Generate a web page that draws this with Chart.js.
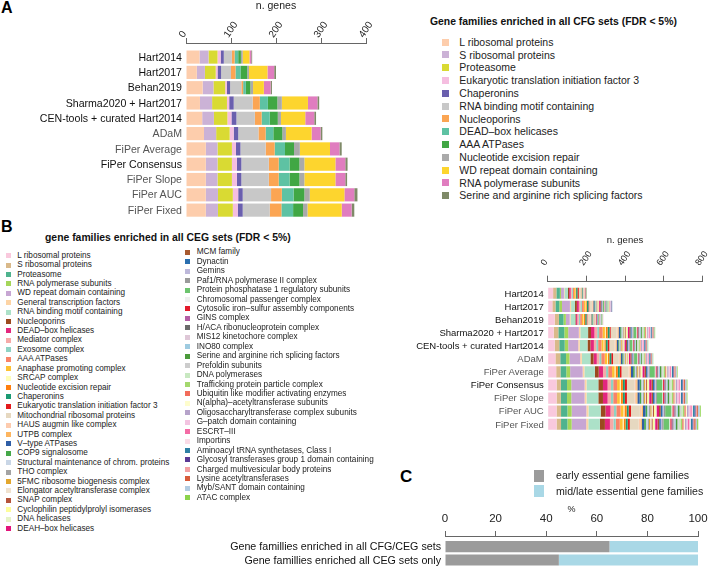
<!DOCTYPE html>
<html>
<head>
<meta charset="utf-8">
<script src="https://cdn.jsdelivr.net/npm/chart.js@4.4.1/dist/chart.umd.min.js"></script>
<style>
  body { margin: 0; background: #fff; font-family: "Liberation Sans", Arial, sans-serif; }
  #page { position: relative; width: 709px; height: 567px; overflow: hidden; }
  canvas { position: absolute; }
  .panel { position: absolute; font-weight: bold; color: #000; line-height: 1; }
  .lgTitle { position: absolute; font-weight: bold; font-size: 10.4px; color: #111; white-space: nowrap; line-height: 12px; }
  .item { position: absolute; white-space: nowrap; color: #222; }
  .sw { position: absolute; }
  .rowLabel { position: absolute; white-space: nowrap; text-align: right; }
</style>
</head>
<body>
<div id="page">
  <div class="panel" style="left:1px;top:0px;font-size:16px;">A</div>
  <div class="panel" style="left:1px;top:219px;font-size:16px;">B</div>
  <div class="panel" style="left:400px;top:468px;font-size:17px;">C</div>
  <canvas id="chartA" width="385" height="222" style="left:0;top:0;"></canvas>
  <canvas id="chartB" width="309" height="215" style="left:400px;top:225px;"></canvas>
  <canvas id="chartC" width="509" height="72" style="left:200px;top:495px;"></canvas>
  <div id="legends"></div>
</div>
<script>
// rows shared by panels A and B
const rowLabels = ['Hart2014', 'Hart2017', 'Behan2019', 'Sharma2020 + Hart2017',
  'CEN-tools + curated Hart2014', 'ADaM', 'FiPer Average', 'FiPer Consensus',
  'FiPer Slope', 'FiPer AUC', 'FiPer Fixed'];

// ---- panel A: CFG gene families (n. genes per set) ----
const cfgFamilies = ['L ribosomal proteins', 'S ribosomal proteins', 'Proteasome',
  'Eukaryotic translation initiation factor 3', 'Chaperonins', 'RNA binding motif containing',
  'Nucleoporins', 'DEAD\u2013box helicases', 'AAA ATPases', 'Nucleotide excision repair',
  'WD repeat domain containing', 'RNA polymerase subunits', 'Serine and arginine rich splicing factors'];
const aLRibo       = [30, 24, 37, 31, 36, 40, 44, 44, 44, 44, 44];
const aSRibo       = [20, 18, 24, 27, 26, 27, 26, 26, 26, 27, 27];
const aProteasome  = [20, 24, 26, 33, 30, 30, 32, 32, 32, 33, 33];
const aEif3        = [7, 4, 4, 5, 9, 9, 9, 11, 11, 12, 11];
const aChaperonins = [7, 8, 7, 10, 11, 10, 10, 10, 10, 10, 11];
const aRnaBinding  = [18, 22, 25, 42, 41, 45, 56, 61, 61, 63, 60];
const aNucleoporins= [6, 10, 4, 16, 15, 16, 20, 22, 22, 24, 26];
const aDeadBox     = [8, 11, 6, 18, 18, 17, 23, 24, 24, 26, 26];
const aAaa         = [6, 15, 10, 21, 18, 20, 20, 22, 22, 24, 22];
const aNer         = [4, 4, 6, 10, 7, 8, 13, 11, 11, 12, 10];
const aWd          = [15, 41, 24, 58, 54, 57, 67, 69, 69, 77, 76];
const aRnaPol      = [4, 15, 15, 21, 20, 20, 21, 22, 22, 22, 22];
const aSr          = [2, 4, 3, 4, 4, 4, 5, 5, 4, 7, 6];
const cfgSeries = [aLRibo, aSRibo, aProteasome, aEif3, aChaperonins, aRnaBinding, aNucleoporins,
  aDeadBox, aAaa, aNer, aWd, aRnaPol, aSr];
const cfgColors = ['#FDCDAC', '#CBB2D6', '#D9DA33', '#F5BEE0', '#6A5FAE', '#C8C8C8', '#FBA553',
  '#5EC2A3', '#41A744', '#AAAAAA', '#FDD52E', '#E07DBF', '#7F8A68'];
const aTicks = [0, 100, 200, 300, 400];

// ---- panel B: CEG gene families (n. genes per set) ----
const cegFamilies = ['L ribosomal proteins', 'S ribosomal proteins', 'Proteasome', 'RNA polymerase subunits',
  'WD repeat domain containing', 'General transcription factors', 'RNA binding motif containing',
  'Nucleoporins', 'DEAD\u2013box helicases', 'Mediator complex', 'Exosome complex', 'AAA ATPases',
  'Anaphase promoting complex', ' SRCAP complex', 'Nucleotide excision repair', 'Chaperonins',
  'Eukaryotic translation initiation factor 3', 'Mitochondrial ribosomal proteins',
  'HAUS augmin like complex', 'UTPB complex', 'V\u2013type ATPases', 'COP9 signalosome',
  'Structural maintenance of chrom. proteins', 'THO complex', '5FMC ribosome biogenesis complex',
  'Elongator acetyltransferase complex', 'SNAP complex', 'Cyclophilin peptidylprolyl isomerases',
  'DNA helicases', 'DEAH\u2013box helicases',
  'MCM family', 'Dynactin', 'Gemins', 'Paf1/RNA polymerase II complex',
  'Protein phosphatase 1 regulatory subunits', 'Chromosomal passenger complex',
  'Cytosolic iron\u2013sulfur assembly components', 'GINS complex', 'H/ACA ribonucleoprotein complex',
  'MIS12 kinetochore complex', 'INO80 complex', 'Serine and arginine rich splicing factors',
  'Prefoldin subunits', 'DNA polymerases', 'Trafficking protein particle complex',
  'Ubiquitin like modifier activating enzymes', 'N(alpha)\u2013acetyltransferase subunits',
  'Oligosaccharyltransferase complex subunits', 'G\u2013patch domain containing', 'ESCRT\u2013III',
  'Importins', 'Aminoacyl tRNA synthetases, Class I', 'Glycosyl transferases group 1 domain containing',
  'Charged multivesicular body proteins', 'Lysine acetyltransferases', 'Myb/SANT domain containing',
  'ATAC complex'];
const bLRibo        = [28, 24, 36, 31, 36, 40, 44, 46, 46, 46, 46];
const bSRibo        = [17, 16, 22, 24, 24, 25, 22, 22, 22, 23, 23];
const bProteasome   = [18, 20, 24, 31, 28, 30, 30, 32, 32, 33, 33];
const bRnaPol       = [6, 14, 12, 20, 18, 18, 20, 22, 22, 22, 22];
const bWd           = [15, 41, 20, 55, 52, 55, 65, 69, 69, 76, 75];
const bGtf          = [3, 6, 5, 8, 8, 9, 9, 10, 10, 11, 11];
const bRnaBinding   = [18, 20, 24, 40, 40, 44, 54, 61, 61, 63, 60];
const bNucleoporins = [6, 10, 4, 15, 15, 16, 20, 24, 24, 25, 26];
const bDeadBox      = [8, 10, 6, 18, 18, 17, 22, 24, 24, 26, 26];
const bMediator     = [5, 8, 8, 14, 12, 13, 16, 17, 17, 18, 18];
const bExosome      = [6, 8, 7, 10, 10, 10, 11, 12, 12, 12, 12];
const bAaa          = [6, 10, 9, 18, 17, 18, 20, 20, 20, 22, 21];
const bApc          = [5, 9, 8, 12, 11, 12, 13, 14, 14, 15, 15];
const bSrcap        = [2, 3, 3, 4, 4, 4, 5, 5, 5, 5, 5];
const bNer          = [4, 4, 6, 10, 7, 8, 12, 11, 11, 12, 10];
const bChaperonins  = [7, 8, 7, 10, 10, 10, 10, 10, 10, 10, 11];
const bEif3         = [7, 4, 4, 6, 9, 9, 9, 11, 11, 12, 11];
const bMitoRibo     = [12, 14, 16, 30, 28, 30, 36, 40, 40, 46, 46];
const bHaus         = [0, 3, 2, 6, 5, 5, 7, 8, 8, 9, 9];
const bUtpb         = [3, 4, 3, 5, 5, 5, 6, 6, 6, 7, 7];
const bVtype        = [3, 6, 4, 8, 8, 8, 11, 12, 12, 13, 12];
const bCop9         = [3, 4, 3, 6, 5, 6, 8, 8, 8, 9, 9];
const bSmc          = [3, 4, 3, 6, 5, 5, 7, 8, 8, 9, 9];
const bTho          = [0, 3, 2, 5, 4, 4, 6, 6, 6, 7, 7];
const b5fmc         = [2, 3, 2, 4, 4, 4, 5, 5, 5, 6, 6];
const bElongator    = [2, 3, 2, 5, 4, 4, 6, 6, 6, 7, 7];
const bSnap         = [0, 2, 2, 4, 3, 3, 5, 5, 5, 6, 6];
const bCyclophilin  = [2, 3, 2, 5, 4, 4, 6, 6, 6, 7, 7];
const bDnaHelicases = [0, 2, 2, 4, 3, 4, 5, 5, 5, 6, 6];
const bDeahBox      = [3, 6, 4, 8, 8, 8, 11, 12, 12, 13, 12];
const bMcm          = [2, 5, 3, 6, 6, 6, 8, 8, 8, 9, 9];
const bDynactin     = [0, 3, 2, 6, 5, 5, 7, 8, 8, 9, 8];
const bGemins       = [2, 3, 2, 5, 4, 4, 6, 6, 6, 7, 7];
const bPaf1         = [0, 3, 2, 5, 4, 4, 6, 6, 6, 7, 7];
const bPp1          = [0, 6, 4, 14, 14, 16, 26, 28, 28, 32, 30];
const bCpc          = [0, 2, 2, 3, 3, 3, 4, 4, 4, 5, 5];
const bCia          = [0, 2, 2, 4, 3, 3, 5, 5, 5, 6, 6];
const bGins         = [0, 2, 2, 4, 3, 3, 4, 4, 4, 5, 5];
const bHaca         = [0, 2, 0, 4, 3, 3, 4, 4, 4, 5, 5];
const bMis12        = [0, 2, 2, 3, 3, 3, 4, 4, 4, 5, 5];
const bIno80        = [0, 2, 2, 5, 4, 4, 6, 6, 6, 7, 7];
const bSrSplicing   = [2, 4, 3, 6, 5, 5, 7, 8, 8, 9, 9];
const bPrefoldin    = [2, 3, 2, 5, 4, 4, 6, 6, 6, 7, 7];
const bDnaPol       = [0, 3, 2, 6, 5, 6, 7, 8, 8, 9, 9];
const bTrapp        = [0, 3, 2, 6, 5, 5, 7, 8, 8, 9, 9];
const bUbl          = [0, 2, 0, 4, 4, 4, 5, 6, 6, 7, 7];
const bNalpha       = [0, 2, 0, 4, 3, 3, 5, 5, 5, 6, 6];
const bOst          = [0, 3, 2, 6, 5, 5, 7, 8, 8, 9, 9];
const bGpatch       = [0, 3, 2, 6, 5, 5, 7, 8, 8, 9, 8];
const bEscrt        = [0, 2, 0, 4, 3, 3, 5, 6, 6, 7, 7];
const bImportins    = [0, 0, 0, 4, 3, 3, 5, 6, 6, 7, 7];
const bAminoacyl    = [0, 3, 0, 6, 5, 5, 7, 8, 8, 9, 9];
const bGlycosyl     = [0, 0, 0, 2, 2, 2, 3, 3, 3, 4, 4];
const bChmp         = [0, 0, 0, 3, 3, 3, 4, 4, 4, 5, 5];
const bLysine       = [0, 0, 0, 4, 3, 3, 5, 6, 6, 7, 7];
const bMyb          = [0, 3, 0, 5, 5, 5, 7, 8, 8, 9, 8];
const bAtac         = [0, 0, 0, 4, 3, 3, 4, 5, 5, 6, 6];
const cegSeries = [bLRibo, bSRibo, bProteasome, bRnaPol, bWd, bGtf, bRnaBinding, bNucleoporins,
  bDeadBox, bMediator, bExosome, bAaa, bApc, bSrcap, bNer, bChaperonins, bEif3, bMitoRibo,
  bHaus, bUtpb, bVtype, bCop9, bSmc, bTho, b5fmc, bElongator, bSnap, bCyclophilin, bDnaHelicases,
  bDeahBox, bMcm, bDynactin, bGemins, bPaf1, bPp1, bCpc, bCia, bGins, bHaca, bMis12, bIno80,
  bSrSplicing, bPrefoldin, bDnaPol, bTrapp, bUbl, bNalpha, bOst, bGpatch, bEscrt, bImportins,
  bAminoacyl, bGlycosyl, bChmp, bLysine, bMyb, bAtac];
const cegColors = ['#F9C9DD', '#D9B98A', '#4FB38E', '#A5D65A', '#C7A6D3', '#FDD4A5', '#ACE1C8',
  '#9B4A1F', '#E3277E', '#F6AAA8', '#8ED3C4', '#F98368', '#FDC132', '#FEFDB8', '#FF7F0E',
  '#1A9A72', '#E31A1C', '#E6D8C0', '#FDCBAE', '#FDB55F', '#2F5EA6', '#45A849', '#C9D6E6',
  '#A3A3A3', '#E3A72E', '#F0E2CF', '#B5533A', '#FDFD9B', '#E5F3C6', '#E3147B',
  '#A85A2F', '#2A6FAF', '#BDB8DA', '#9A9A9A', '#6DC46E', '#EFEFEF', '#E31A2B', '#B45EA5',
  '#6A6A6A', '#DEC7D7', '#9ECBE0', '#4B9A3B', '#CCCCCC', '#C8E8C1', '#A4D86E', '#F26C5B',
  '#FEFDCD', '#B6A3CA', '#F3C4E1', '#F46BA5', '#FBDCE7', '#2F80A5', '#5B3995', '#F3A0A2',
  '#D85C3A', '#B2CCE2', '#8CD34B'];
const bTicks = [0, 200, 400, 600, 800];

// ---- panel C: % of families ----
const cLabels = ['Gene famillies enriched in all CFG/CEG sets', 'Gene famillies enriched all CEG sets only'];
const cGroups = ['early essential gene families', 'mid/late essential gene families'];
const cEarly = [65, 45];
const cLate = [35, 55];
const cColors = ['#9B9B9B', '#A9D8E6'];
const cTicks = [0, 20, 40, 60, 80, 100];

Chart.defaults.font.family = '"Liberation Sans", Arial, sans-serif';
const host = document.getElementById('legends');

// horizontal stacked bars on a linear index axis, so the rows can sit
// a little below the top axis line like in the original figure
function stackedRows(id, labels, names, series, colors, o) {
  const canvas = document.getElementById(id);
  const chart = new Chart(canvas, {
    type: 'bar',
    data: {
      labels: labels.map((_, i) => i),
      datasets: names.map((name, k) => ({
        label: name, data: series[k], backgroundColor: colors[k],
        borderWidth: 0, barPercentage: o.barPct, categoryPercentage: 1
      }))
    },
    options: {
      indexAxis: 'y', responsive: false, animation: false, devicePixelRatio: 1,
      layout: { padding: { top: 0, left: 0, right: o.padRight, bottom: o.padBottom } },
      plugins: { legend: { display: false }, tooltip: { enabled: false } },
      scales: {
        x: {
          type: 'linear', position: 'top', stacked: true, bounds: 'data',
          min: o.ticks[0], max: o.ticks[o.ticks.length - 1],
          ticks: { stepSize: o.ticks[1] - o.ticks[0], minRotation: o.rot, maxRotation: o.rot,
                   font: { size: o.tickSize }, color: '#222', padding: o.tickPad,
                   labelOffset: o.tickShift, autoSkip: false },
          grid: { drawOnChartArea: false, tickLength: o.tickLen, color: '#666', lineWidth: 1 },
          border: { color: '#666', width: 1 },
          title: { display: true, text: o.title, font: { size: o.titleSize }, color: '#222',
                   padding: { top: o.titlePad, bottom: 0 } },
          afterFit: s => { s.height = o.top; s.paddingLeft = 0; s.paddingRight = 0; }
        },
        y: {
          type: 'linear', reverse: true, stacked: true, bounds: 'data', offset: false,
          min: o.yMin, max: o.yMax,
          afterBuildTicks: s => { s.ticks = labels.map((_, i) => ({ value: i })); },
          ticks: { display: false },
          grid: { display: false, drawTicks: false },
          border: { display: false },
          afterFit: s => { s.width = o.left; }
        }
      }
    }
  });

  // row names as text, placed on the rows of the chart's own y scale
  const left = parseFloat(canvas.style.left) || 0;
  const top = parseFloat(canvas.style.top) || 0;
  const lh = o.labelSize * 1.2;
  labels.forEach((name, i) => {
    const d = document.createElement('div');
    d.className = 'rowLabel';
    const yPix = chart.scales.y.getPixelForValue(i) + top;
    const right = 709 - (left + chart.chartArea.left - o.labelPad);
    d.style.cssText = `right:${right}px;top:${yPix - lh / 2}px;font-size:${o.labelSize}px;` +
      `line-height:${lh}px;color:${o.dark.includes(i) ? '#111' : '#555'};`;
    d.textContent = name;
    host.appendChild(d);
  });
  return chart;
}

stackedRows('chartA', rowLabels, cfgFamilies, cfgSeries, cfgColors, {
  ticks: aTicks, rot: 55, tickSize: 10, tickPad: -2, tickShift: 5, tickLen: 5, title: 'n. genes',
  titleSize: 10.5, titlePad: 0, top: 43, left: 186, padRight: 19, padBottom: 3, yMin: -0.92,
  yMax: 10.58, barPct: 0.86, labelSize: 10.6, labelPad: 4, dark: [0, 1, 2, 3, 4, 7]
});

stackedRows('chartB', rowLabels, cegFamilies, cegSeries, cegColors, {
  ticks: bTicks, rot: 55, tickSize: 9, tickPad: 8, tickShift: 4, tickLen: 6, title: 'n. genes',
  titleSize: 9.5, titlePad: 10, top: 56.7, left: 147.7, padRight: 6.7, padBottom: 8, yMin: -0.885,
  yMax: 10.59, barPct: 0.85, labelSize: 9.5, labelPad: 4, dark: [0, 1, 2, 3, 4, 7]
});

stackedRows('chartC', cLabels, cGroups, [cEarly, cLate], cColors, {
  ticks: cTicks, rot: 0, tickSize: 11.5, tickPad: 5, tickShift: 0, tickLen: 5, title: '%',
  titleSize: 9, titlePad: 9.6, top: 41, left: 245, padRight: 11, padBottom: 0, yMin: -0.8,
  yMax: 1.53, barPct: 0.83, labelSize: 10.7, labelPad: 4, dark: [0, 1]
});

// ---- HTML legends ----
function addTitle(text, x, cy) {
  const d = document.createElement('div');
  d.className = 'lgTitle';
  d.style.left = x + 'px';
  d.style.top = (cy - 6) + 'px';
  d.textContent = text;
  host.appendChild(d);
}

function addItem(name, color, o, cy) {
  const sw = document.createElement('div');
  sw.className = 'sw';
  sw.style.cssText = `left:${o.boxX}px;top:${cy - o.boxH / 2}px;width:${o.boxW}px;height:${o.boxH}px;background:${color};`;
  host.appendChild(sw);
  const t = document.createElement('div');
  t.className = 'item';
  const lh = o.size * 1.2;
  t.style.cssText = `left:${o.textX}px;top:${cy - lh / 2}px;font-size:${o.size}px;line-height:${lh}px;`;
  t.textContent = name;
  host.appendChild(t);
}

addTitle('Gene families enriched in all CFG sets (FDR < 5%)', 430, 22.3);
cfgFamilies.forEach((name, i) => addItem(name, cfgColors[i],
  { boxX: 441.7, boxW: 7, boxH: 7, textX: 459.3, size: 10.5 }, 42 + 12.8 * i));

addTitle('gene families enriched in all CEG sets (FDR < 5%)', 45, 238.3);
cegFamilies.forEach((name, i) => {
  if (i < 30) {
    addItem(name, cegColors[i], { boxX: 6, boxW: 5, boxH: 5, textX: 17.3, size: 8.2 }, 255.7 + 9.41 * i);
  } else {
    addItem(name, cegColors[i], { boxX: 184.5, boxW: 5, boxH: 5, textX: 196.7, size: 8.2 }, 252.3 + 9.44 * (i - 30));
  }
});

cGroups.forEach((name, i) => addItem(name, cColors[i],
  { boxX: 534, boxW: 10, boxH: 12, textX: 556, size: 10.6 }, 475.5 + 15.5 * i));
</script>
</body>
</html>
